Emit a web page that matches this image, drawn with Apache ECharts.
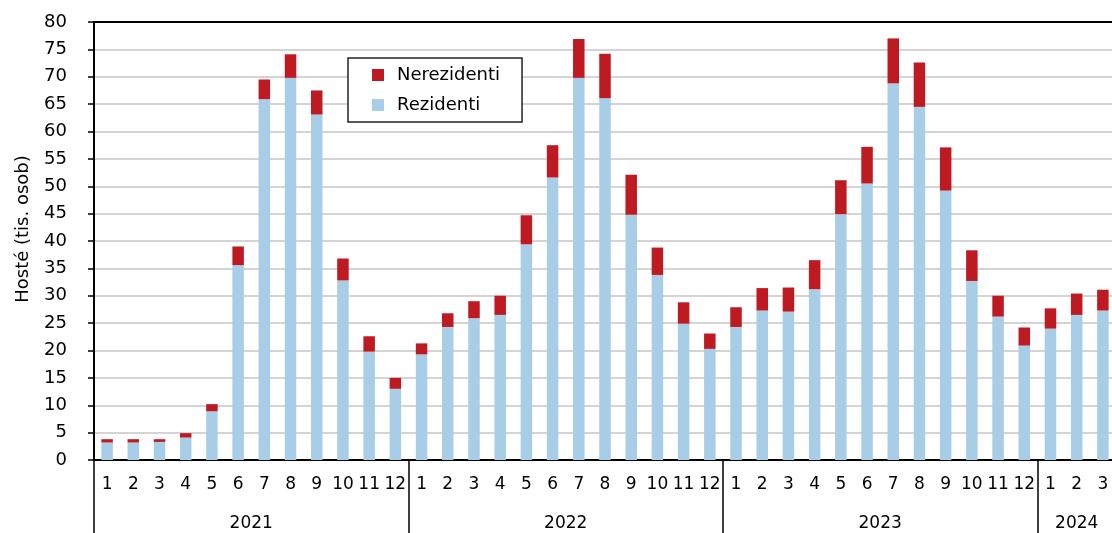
<!DOCTYPE html>
<html>
<head>
<meta charset="utf-8">
<script src="https://cdn.jsdelivr.net/npm/echarts@6/dist/echarts.min.js"></script>
<style>
  html, body { margin: 0; padding: 0; background: #fff; }
  #main { width: 1112px; height: 533px; }
</style>
</head>
<body>
<div id="main"></div>
<script>
// měsíce (kategorie)
var months = ['1','2','3','4','5','6','7','8','9','10','11','12',
              '1','2','3','4','5','6','7','8','9','10','11','12',
              '1','2','3','4','5','6','7','8','9','10','11','12',
              '1','2','3'];

// roky a počet měsíců v každém
var years = ['2021', '2022', '2023', '2024'];
var yearLengths = [12, 12, 12, 3];

// rezidenti (tis. osob)
var rezidenti = [3.2, 3.2, 3.3, 4.1, 8.9, 35.6, 65.9, 69.8, 63.1, 32.8, 19.8, 13.0,
                 19.3, 24.3, 25.9, 26.5, 39.4, 51.6, 69.8, 66.1, 44.8, 33.8, 24.9, 20.3,
                 24.3, 27.3, 27.1, 31.2, 44.9, 50.5, 68.8, 64.5, 49.2, 32.7, 26.2, 20.9,
                 24.0, 26.5, 27.3];

// nerezidenti (tis. osob)
var nerezidenti = [0.6, 0.6, 0.5, 0.8, 1.3, 3.4, 3.6, 4.3, 4.4, 4.0, 2.8, 2.0,
                   2.0, 2.5, 3.1, 3.5, 5.3, 5.9, 7.1, 8.1, 7.3, 5.0, 3.9, 2.8,
                   3.6, 4.1, 4.4, 5.3, 6.2, 6.7, 8.2, 8.1, 7.9, 5.6, 3.8, 3.3,
                   3.7, 3.9, 3.8];

var font = 'DejaVu Sans';

// hranice a středy roků na ose
var yearBounds = [0];
var yearCenters = [];
for (var i = 0; i < yearLengths.length; i++) {
    yearCenters.push(yearBounds[i] + yearLengths[i] / 2);
    yearBounds.push(yearBounds[i] + yearLengths[i]);
}

var myChart = echarts.init(document.getElementById('main'));

var option = {
    animation: false,
    textStyle: { fontFamily: font },
    // plocha grafu přesahuje pravý okraj obrázku (jako v originálu)
    grid: {
        left: 94, top: 22, bottom: 73,
        width: 1022,
        show: false,
        outerBoundsMode: 'none',
        containLabel: false
    },
    legend: {
        data: ['Nerezidenti', 'Rezidenti'],
        orient: 'vertical',
        left: 348, top: 58,
        padding: [8, 22, 8, 24],
        itemWidth: 12, itemHeight: 12,
        itemGap: 12,
        icon: 'rect',
        backgroundColor: '#fff',
        borderColor: '#222',
        borderWidth: 1.5,
        borderRadius: 0,
        textStyle: { fontFamily: font, fontSize: 18, color: '#000', padding: [0, 0, 0, 8] }
    },
    xAxis: [
        {
            type: 'category',
            data: months,
            position: 'bottom',
            axisLine: { lineStyle: { color: '#000', width: 2 } },
            axisTick: { interval: 0, length: 38, lineStyle: { color: '#000', width: 1.5 } },
            axisLabel: { interval: 0, margin: 16, fontSize: 17, color: '#000', fontFamily: font },
            splitLine: { show: false }
        },
        {
            type: 'value',
            min: 0, max: months.length,
            position: 'bottom',
            axisLine: { show: false },
            splitLine: { show: false },
            axisTick: {
                show: true,
                length: 80,
                customValues: yearBounds.slice(0, yearBounds.length - 1),
                lineStyle: { color: '#000', width: 1.5 }
            },
            axisLabel: {
                customValues: yearCenters,
                margin: 55,
                fontSize: 17,
                color: '#000',
                fontFamily: font,
                formatter: function (v) {
                    var idx = yearCenters.indexOf(v);
                    return idx >= 0 ? years[idx] : '';
                }
            }
        },
        {
            // horní okraj plochy
            type: 'category',
            data: months,
            position: 'top',
            axisLine: { show: true, lineStyle: { color: '#000', width: 2 } },
            axisTick: { show: false },
            axisLabel: { show: false },
            splitLine: { show: false }
        }
    ],
    yAxis: {
        type: 'value',
        min: 0, max: 80, interval: 5,
        name: 'Hosté (tis. osob)',
        nameLocation: 'middle',
        nameGap: 62,
        nameTextStyle: { fontSize: 18, color: '#000', fontFamily: font, padding: [0, 0, 0, 24] },
        axisLine: { show: true, lineStyle: { color: '#000', width: 2 } },
        axisTick: { show: true, length: 6, lineStyle: { color: '#000', width: 1.5 } },
        axisLabel: { margin: 27, fontSize: 18, color: '#000', fontFamily: font },
        splitLine: { lineStyle: { color: '#c6c6c6', width: 1.5 } }
    },
    series: [
        {
            name: 'Rezidenti',
            type: 'bar',
            stack: 'hoste',
            xAxisIndex: 0,
            data: rezidenti,
            barWidth: 11.5,
            itemStyle: { color: '#a8cde7' }
        },
        {
            name: 'Nerezidenti',
            type: 'bar',
            stack: 'hoste',
            xAxisIndex: 0,
            data: nerezidenti,
            barWidth: 11.5,
            itemStyle: { color: '#be1a22' }
        }
    ]
};

myChart.setOption(option);
</script>
</body>
</html>
